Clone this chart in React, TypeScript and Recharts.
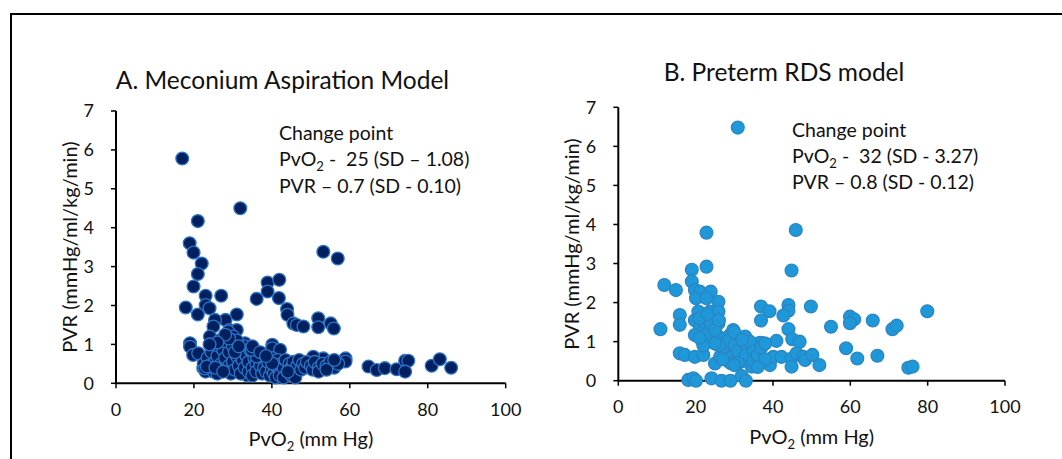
import React from 'react';
import { ScatterChart, Scatter, XAxis, YAxis, Label } from 'recharts';

const FONT = 'Lato, "Open Sans", sans-serif';
const TEXT = '#111111';

// A. Meconium aspiration model
const meconiumPvO2 = [
  17.0, 31.9, 21.0, 18.9, 19.9, 22.0, 21.0, 19.9, 23.0, 23.0, 24.0, 17.9, 27.0, 21.0, 31.0, 28.1, 25.4, 25.0, 24.1,
  53.2, 56.9, 38.9, 41.9, 38.9, 36.1, 41.8, 43.9, 44.0, 45.5, 46.4, 48.1, 51.9, 51.9, 55.1, 55.9, 29.1, 31.0, 28.8,
  19.0, 19.0, 19.8, 21.1, 58.9, 58.9, 64.8, 66.9, 69.0, 72.0, 74.2, 75.0, 74.2, 81.0, 83.1, 86.0, 40.1, 40.1, 42.1,
  33.1, 30.1, 26.7, 25.0, 49.4, 51.1, 53.2, 55.8, 50.6, 47.2, 22.4, 26.7, 29.7, 34.4, 37.8, 43.8, 33.5, 40.4,
  22.5, 23.0, 23.5, 24.0, 24.5, 25.0, 25.5, 26.0, 26.0, 26.5, 27.0, 27.5, 28.0, 28.0, 28.5, 29.0, 29.0, 29.5, 30.0,
  30.0, 30.5, 31.0, 31.0, 31.5, 32.0, 32.0, 32.5, 33.0, 33.0, 33.5, 34.0, 34.0, 34.5, 35.0, 35.0, 35.5, 36.0, 36.0,
  36.5, 37.0, 37.5, 38.0, 38.0, 38.5, 39.0, 39.5, 40.0, 40.0, 40.5, 41.0, 41.0, 41.5, 42.0, 42.0, 42.5, 43.0, 43.0,
  43.5, 44.0, 44.5, 45.0, 45.0, 45.5, 46.0, 46.0, 46.5, 47.0, 47.5, 48.0, 48.5, 49.0, 50.0, 50.5, 51.0, 52.0, 52.0,
  53.0, 54.0, 55.0, 56.0, 57.0, 54.0, 56.0, 40.1, 44.1, 36.1, 34.8, 22.8, 23.3, 25.5, 27.5, 29.0, 30.5, 28.0, 26.0,
  24.0, 31.5, 35.0, 37.0, 38.5,
];
const meconiumPVR = [
  5.78, 4.5, 4.17, 3.6, 3.36, 3.08, 2.81, 2.49, 2.25, 2.01, 1.93, 1.95, 2.25, 1.77, 1.77, 1.63, 1.63, 1.46, 1.2,
  3.38, 3.21, 2.59, 2.66, 2.36, 2.17, 2.19, 1.91, 1.76, 1.54, 1.5, 1.46, 1.67, 1.44, 1.54, 1.41, 1.37, 1.37, 1.33,
  1.03, 0.94, 0.73, 0.77, 0.64, 0.56, 0.43, 0.34, 0.39, 0.36, 0.58, 0.58, 0.3, 0.45, 0.62, 0.4, 0.99, 0.9, 0.86,
  1.03, 1.2, 1.11, 0.86, 0.47, 0.64, 0.64, 0.43, 0.68, 0.51, 0.39, 0.39, 0.6, 0.51, 0.43, 0.34, 0.21, 0.51,
  0.5, 0.3, 0.65, 0.45, 0.8, 0.3, 0.55, 0.7, 0.25, 0.95, 0.5, 0.85, 0.35, 0.65, 1.05, 0.45, 0.8, 0.25, 0.55,
  0.95, 0.35, 0.7, 1.1, 0.45, 0.25, 0.85, 0.6, 0.4, 0.95, 0.7, 0.3, 0.55, 0.85, 0.4, 0.2, 0.65, 0.5, 0.3,
  0.75, 0.45, 0.25, 0.6, 0.4, 0.3, 0.55, 0.2, 0.35, 0.65, 0.25, 0.45, 0.15, 0.6, 0.3, 0.2, 0.5, 0.4, 0.15,
  0.6, 0.3, 0.5, 0.2, 0.4, 0.55, 0.3, 0.15, 0.45, 0.6, 0.35, 0.5, 0.4, 0.55, 0.45, 0.35, 0.55, 0.4, 0.3,
  0.5, 0.45, 0.55, 0.4, 0.5, 0.35, 0.6, 0.51, 0.3, 0.69, 0.86, 0.38, 0.43, 0.4, 0.3, 1.15, 0.8, 1.25, 1.05,
  1.0, 0.95, 0.95, 0.8, 0.7,
];

// B. Preterm RDS model
const rdsPvO2 = [
  30.9, 22.8, 45.9, 22.8, 44.8, 19.0, 19.0, 11.9, 14.9, 19.8, 21.1, 23.9, 20.1, 22.8, 25.9, 15.9, 15.9, 10.9, 20.7,
  23.7, 25.9, 19.8, 22.8, 25.9, 21.1, 19.8, 25.9, 21.8, 15.9, 17.2, 19.8, 22.0, 25.0, 18.1, 19.4, 20.1, 24.1, 26.7,
  29.0, 31.9, 33.0, 36.9, 39.1, 36.9, 44.0, 44.0, 42.7, 49.8, 44.0, 45.0, 46.9, 40.9, 37.5, 36.6, 28.9, 29.7, 32.8,
  31.0, 34.9, 27.2, 28.9, 26.3, 32.3, 34.1, 35.8, 30.6, 28.0, 34.5, 39.2, 40.1, 42.2, 44.8, 44.8, 46.1, 47.8, 48.3,
  50.2, 52.0, 55.0, 58.9, 61.8, 67.0, 59.9, 61.0, 59.9, 65.8, 70.9, 72.0, 79.9, 75.0, 76.1,
  27.0, 28.0, 29.0, 30.0, 31.0, 32.0, 33.0, 33.0, 34.0, 35.0, 35.0, 36.0, 37.0, 38.0, 38.0, 36.0, 31.0, 29.0, 27.0,
  26.0, 24.0, 23.0, 22.0, 24.0, 21.0, 23.0, 25.0, 26.0, 25.0, 30.0, 32.0, 30.0, 22.0, 21.0,
];
const rdsPVR = [
  6.48, 3.79, 3.86, 2.92, 2.82, 2.84, 2.54, 2.45, 2.32, 2.32, 2.28, 2.28, 2.11, 2.11, 2.02, 1.68, 1.43, 1.32, 1.77,
  1.77, 1.77, 1.55, 1.51, 1.47, 1.34, 1.17, 1.13, 1.0, 0.7, 0.66, 0.61, 0.66, 0.44, 0.02, 0.06, 0.0, 0.06, 0.0,
  0.0, 0.12, 0.0, 1.9, 1.78, 1.54, 1.94, 1.79, 1.67, 1.9, 1.32, 1.06, 1.0, 1.02, 0.96, 0.97, 1.17, 1.3, 1.13,
  0.91, 0.87, 0.96, 0.7, 0.61, 0.74, 0.61, 0.57, 0.53, 0.53, 0.36, 0.4, 0.61, 0.61, 0.57, 0.36, 0.7, 0.61, 0.53,
  0.66, 0.4, 1.38, 0.83, 0.57, 0.64, 1.64, 1.57, 1.47, 1.54, 1.32, 1.41, 1.78, 0.33, 0.36,
  0.85, 1.0, 0.6, 0.9, 0.75, 0.5, 0.9, 0.65, 1.0, 0.75, 0.5, 0.65, 0.85, 0.55, 0.95, 0.35, 0.45, 0.45, 0.55,
  0.9, 1.0, 1.2, 1.5, 1.45, 1.6, 1.7, 1.3, 1.55, 0.95, 1.25, 1.05, 0.4, 0.9, 1.1,
];

const xTicks = [0, 20, 40, 60, 80, 100];
const yTicks = [0, 1, 2, 3, 4, 5, 6, 7];

const toPoints = (xs: number[], ys: number[]) => xs.map((x, i) => ({ x, y: ys[i] }));
const meconiumData = toPoints(meconiumPvO2, meconiumPVR);
const rdsData = toPoints(rdsPvO2, rdsPVR);

const makeDot = (fill: string, stroke: string) => (props: any) =>
  <circle cx={props.cx} cy={props.cy} r={6.4} fill={fill} stroke={stroke} strokeWidth={1.3} />;

const XTitle = (props: any) => {
  const { x, y, width } = props.viewBox;
  return (
    <text x={x + width / 2} y={y + 63} textAnchor="middle" fontFamily={FONT} fontSize={20} fill={TEXT}>
      PvO<tspan fontSize={13} dy={5}>2</tspan><tspan dy={-5}>{'\u00A0(mm Hg)'}</tspan>
    </text>
  );
};

const YTitle = (props: any) => {
  const { x, y, width, height } = props.viewBox;
  const cx = x + width - 47;
  const cy = y + height / 2;
  return (
    <text x={cx} y={cy} transform={`rotate(-90 ${cx} ${cy})`} textAnchor="middle" dominantBaseline="central" fontFamily={FONT} fontSize={20} fill={TEXT}>
      PVR (mmHg/ml/kg/min)
    </text>
  );
};

const axisLine = { stroke: '#000', strokeWidth: 2 };
const tickLine = { stroke: '#000', strokeWidth: 1.5 };
const tickStyle = { fill: TEXT, fontSize: 18, fontFamily: FONT };

function Panel({ data, fill, stroke, width, margin }: any) {
  return (
    <ScatterChart width={width} height={459} margin={margin}>
      <XAxis type="number" dataKey="x" domain={[0, 100]} ticks={xTicks} interval={0} height={40}
        axisLine={axisLine} tickLine={tickLine} tickSize={5} tickMargin={15} tick={tickStyle}>
        <Label content={XTitle} />
      </XAxis>
      <YAxis type="number" dataKey="y" domain={[0, 7]} ticks={yTicks} interval={0} width={60}
        axisLine={axisLine} tickLine={tickLine} tickSize={5} tickMargin={17} tick={tickStyle}>
        <Label content={YTitle} />
      </YAxis>
      <Scatter data={data} shape={makeDot(fill, stroke)} isAnimationActive={false} />
    </ScatterChart>
  );
}

const sub = { fontSize: 13 } as const;

export default function App() {
  return (
    <div style={{ position: 'absolute', left: 0, top: 0, width: 1062, height: 459, overflow: 'hidden', background: '#fff' }}>
      <div style={{ position: 'absolute', left: 10, top: 13, width: 1100, height: 500, border: '2px solid #000', boxSizing: 'border-box' }} />
      <div style={{ position: 'absolute', left: 0, top: 0 }}>
        <Panel data={meconiumData} fill="#002060" stroke="#2E75C6" width={530}
          margin={{ top: 111, right: 24.3, bottom: 35.7, left: 56 }} />
      </div>
      <div style={{ position: 'absolute', left: 530, top: 0 }}>
        <Panel data={rdsData} fill="#1E98D8" stroke="#2A86C4" width={532}
          margin={{ top: 107.3, right: 57, bottom: 38.3, left: 28.3 }} />
      </div>
      <svg width={1062} height={459} style={{ position: 'absolute', left: 0, top: 0, pointerEvents: 'none' }}>
        <g fontFamily={FONT} fill={TEXT}>
          <text x={282.5} y={89} fontSize={24.5} textAnchor="middle">A. Meconium Aspiration Model</text>
          <text x={784} y={81} fontSize={24.5} textAnchor="middle">B. Preterm RDS model</text>
          <text x={279} y={140} fontSize={19.5}>Change point</text>
          <text x={279} y={166} fontSize={19.5}>PvO<tspan style={sub} dy={5}>2</tspan><tspan dy={-5}>{'\u00A0-\u00A0\u00A025 (SD – 1.08)'}</tspan></text>
          <text x={279} y={193} fontSize={19.5}>PVR – 0.7 (SD - 0.10)</text>
          <text x={792} y={137} fontSize={19.5}>Change point</text>
          <text x={792} y={163} fontSize={19.5}>PvO<tspan style={sub} dy={5}>2</tspan><tspan dy={-5}>{'\u00A0-\u00A0\u00A032 (SD - 3.27)'}</tspan></text>
          <text x={792} y={189} fontSize={19.5}>PVR – 0.8 (SD - 0.12)</text>
        </g>
      </svg>
    </div>
  );
}
